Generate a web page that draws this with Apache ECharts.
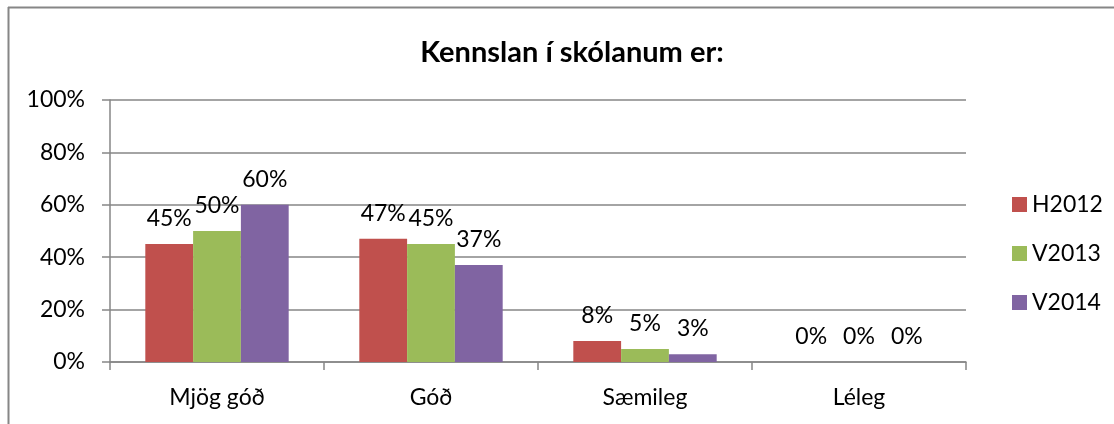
<!DOCTYPE html>
<html>
<head>
<meta charset="utf-8">
<script src="https://cdn.jsdelivr.net/npm/echarts@6/dist/echarts.min.js"></script>
<style>
  html, body { margin: 0; padding: 0; background: #fff; }
  #chart { width: 1114px; height: 424px; }
</style>
</head>
<body>
<div id="chart"></div>
<script>
const categories = ['Mjög góð', 'Góð', 'Sæmileg', 'Léleg']
const seriesNames = ['H2012', 'V2013', 'V2014']
const h2012 = [45, 47, 8, 0]
const v2013 = [50, 45, 5, 0]
const v2014 = [60, 37, 3, 0]
const colors = ['#C0504D', '#9BBB59', '#8064A2']
const yTicks = [0, 20, 40, 60, 80, 100]

const font = 'Lato, "Open Sans", sans-serif'
const myChart = echarts.init(document.getElementById('chart'))

const makeSeries = (name, data, color) => ({
  name: name,
  type: 'bar',
  data: data,
  barGap: '0%',
  barCategoryGap: '33%',
  itemStyle: { color: color },
  label: {
    show: true,
    position: 'top',
    distance: 14,
    formatter: '{c}%',
    color: '#000',
    fontFamily: font,
    fontSize: 23
  }
})

myChart.setOption({
  animation: false,
  title: {
    text: 'Kennslan í skólanum er:',
    left: 567,
    textAlign: 'center',
    top: 33,
    textStyle: { fontFamily: font, fontSize: 29, fontWeight: 'bold', color: '#000' }
  },
  legend: {
    orient: 'vertical',
    left: 1007,
    top: 188,
    itemWidth: 15,
    itemHeight: 15,
    itemGap: 26,
    icon: 'rect',
    textStyle: { fontFamily: font, fontSize: 23, color: '#000' },
    data: seriesNames
  },
  grid: { left: 110, right: 148, top: 100, bottom: 62 },
  xAxis: {
    type: 'category',
    data: categories,
    axisLine: { lineStyle: { color: '#868686', width: 1.5 } },
    axisTick: { show: true, length: 8, lineStyle: { color: '#868686', width: 1.5 } },
    axisLabel: { fontFamily: font, fontSize: 23, color: '#000', margin: 24 }
  },
  yAxis: {
    type: 'value',
    min: yTicks[0],
    max: yTicks[yTicks.length - 1],
    interval: 20,
    axisLine: { show: true, lineStyle: { color: '#868686', width: 1.5 } },
    axisTick: { show: true, length: 8, lineStyle: { color: '#868686', width: 1.5 } },
    splitLine: { lineStyle: { color: '#868686', width: 1.5 } },
    axisLabel: { fontFamily: font, fontSize: 23, color: '#000', margin: 25, formatter: '{value}%' }
  },
  graphic: [
    { type: 'line', shape: { x1: 8, y1: 7.5, x2: 1114, y2: 7.5 }, style: { stroke: '#868686', lineWidth: 2 } },
    { type: 'line', shape: { x1: 8.5, y1: 7, x2: 8.5, y2: 424 }, style: { stroke: '#868686', lineWidth: 2 } }
  ],
  series: [
    makeSeries(seriesNames[0], h2012, colors[0]),
    makeSeries(seriesNames[1], v2013, colors[1]),
    makeSeries(seriesNames[2], v2014, colors[2])
  ]
})
</script>
</body>
</html>
